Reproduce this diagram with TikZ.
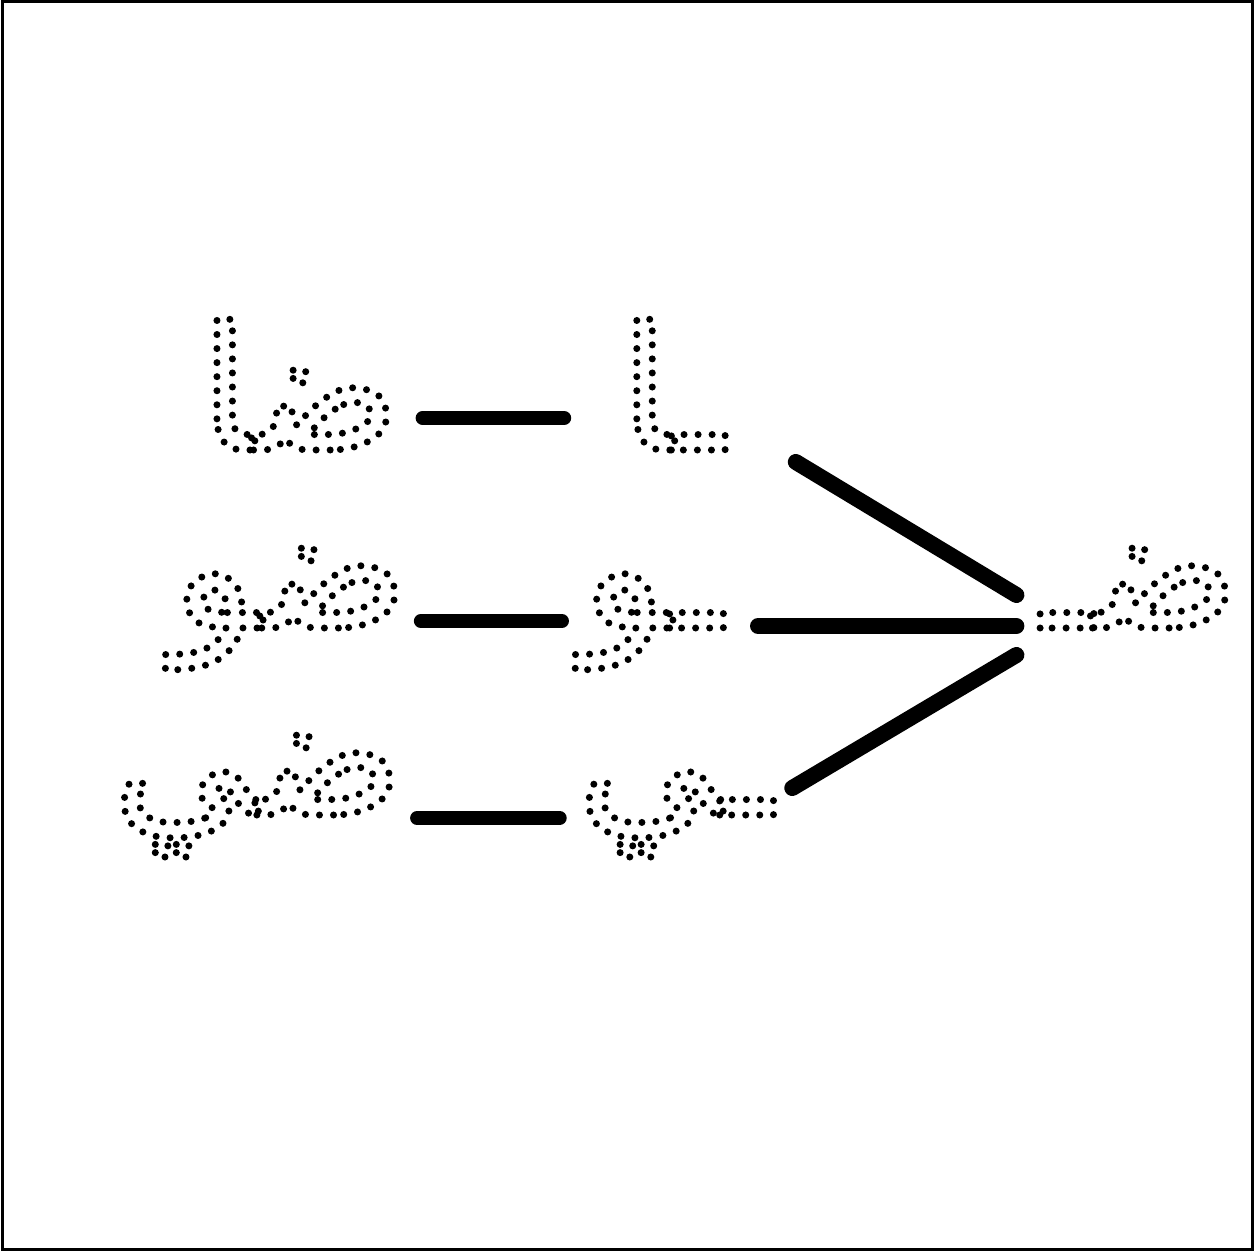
\documentclass[tikz,border=0pt]{standalone}
\usepackage{fontspec}
\newfontfamily\arabicfont[Script=Arabic]{DejaVu Sans}
\TeXXeTstate=1
% dotted tracing letters: stroke the glyph outline with round dots
\newcommand\dotglyph[1]{\special{pdf:literal direct 1 Tr 3.5 w 1 J 1 j [0 7] 0 d}\arabicfont\beginR #1\endR\special{pdf:literal direct 0 Tr}}
\begin{document}
\begin{tikzpicture}[x=0.5pt,y=-0.5pt,
  letter/.style={inner sep=0pt,anchor=base,font=\fontsize{86}{100}\selectfont},
  bar/.style={line width=7pt,line cap=round},
  spoke/.style={line width=8pt,line cap=round}]
\useasboundingbox (0,0) rectangle (1254,1251);
\draw[line width=1.5pt] (2,2) rectangle (1252,1249);
% letters
\node[letter] (dad) at (1140,628) {\dotglyph{ضـ}};
\node[letter] (alef) at (672,450) {\dotglyph{ـا}};
\node[letter] (waw) at (652,628) {\dotglyph{ـو}};
\node[letter] (yaa) at (675,815) {\dotglyph{ـي}};
\node[letter] (dadalef) at (300,450) {\dotglyph{ضا}};
\node[letter] (dadwaw) at (290,628) {\dotglyph{ضو}};
\node[letter] (dadyaa) at (258,815) {\dotglyph{ضي}};
% dad joins each letter
\draw[spoke] ([shift={(72,12)}]alef.base east) -- ([shift={(-25,-33)}]dad.base west);
\draw[spoke] ([shift={(36,-2)}]waw.base east) -- ([shift={(-25,-2)}]dad.base west);
\draw[spoke] ([shift={(20,-27)}]yaa.base east) -- ([shift={(-25,27)}]dad.base west);
% result of each join
\draw[bar] ([shift={(23,-32)}]dadalef.base east) coordinate (t1) -- ([xshift=-28pt]alef.base west |- t1);
\draw[bar] ([shift={(13,-7)}]dadwaw.base east) coordinate (t2) -- ([xshift=-10pt]waw.base west |- t2);
\draw[bar] ([shift={(14,3)}]dadyaa.base east) coordinate (t3) -- ([xshift=-9pt]yaa.base west |- t3);
\end{tikzpicture}
\end{document}
